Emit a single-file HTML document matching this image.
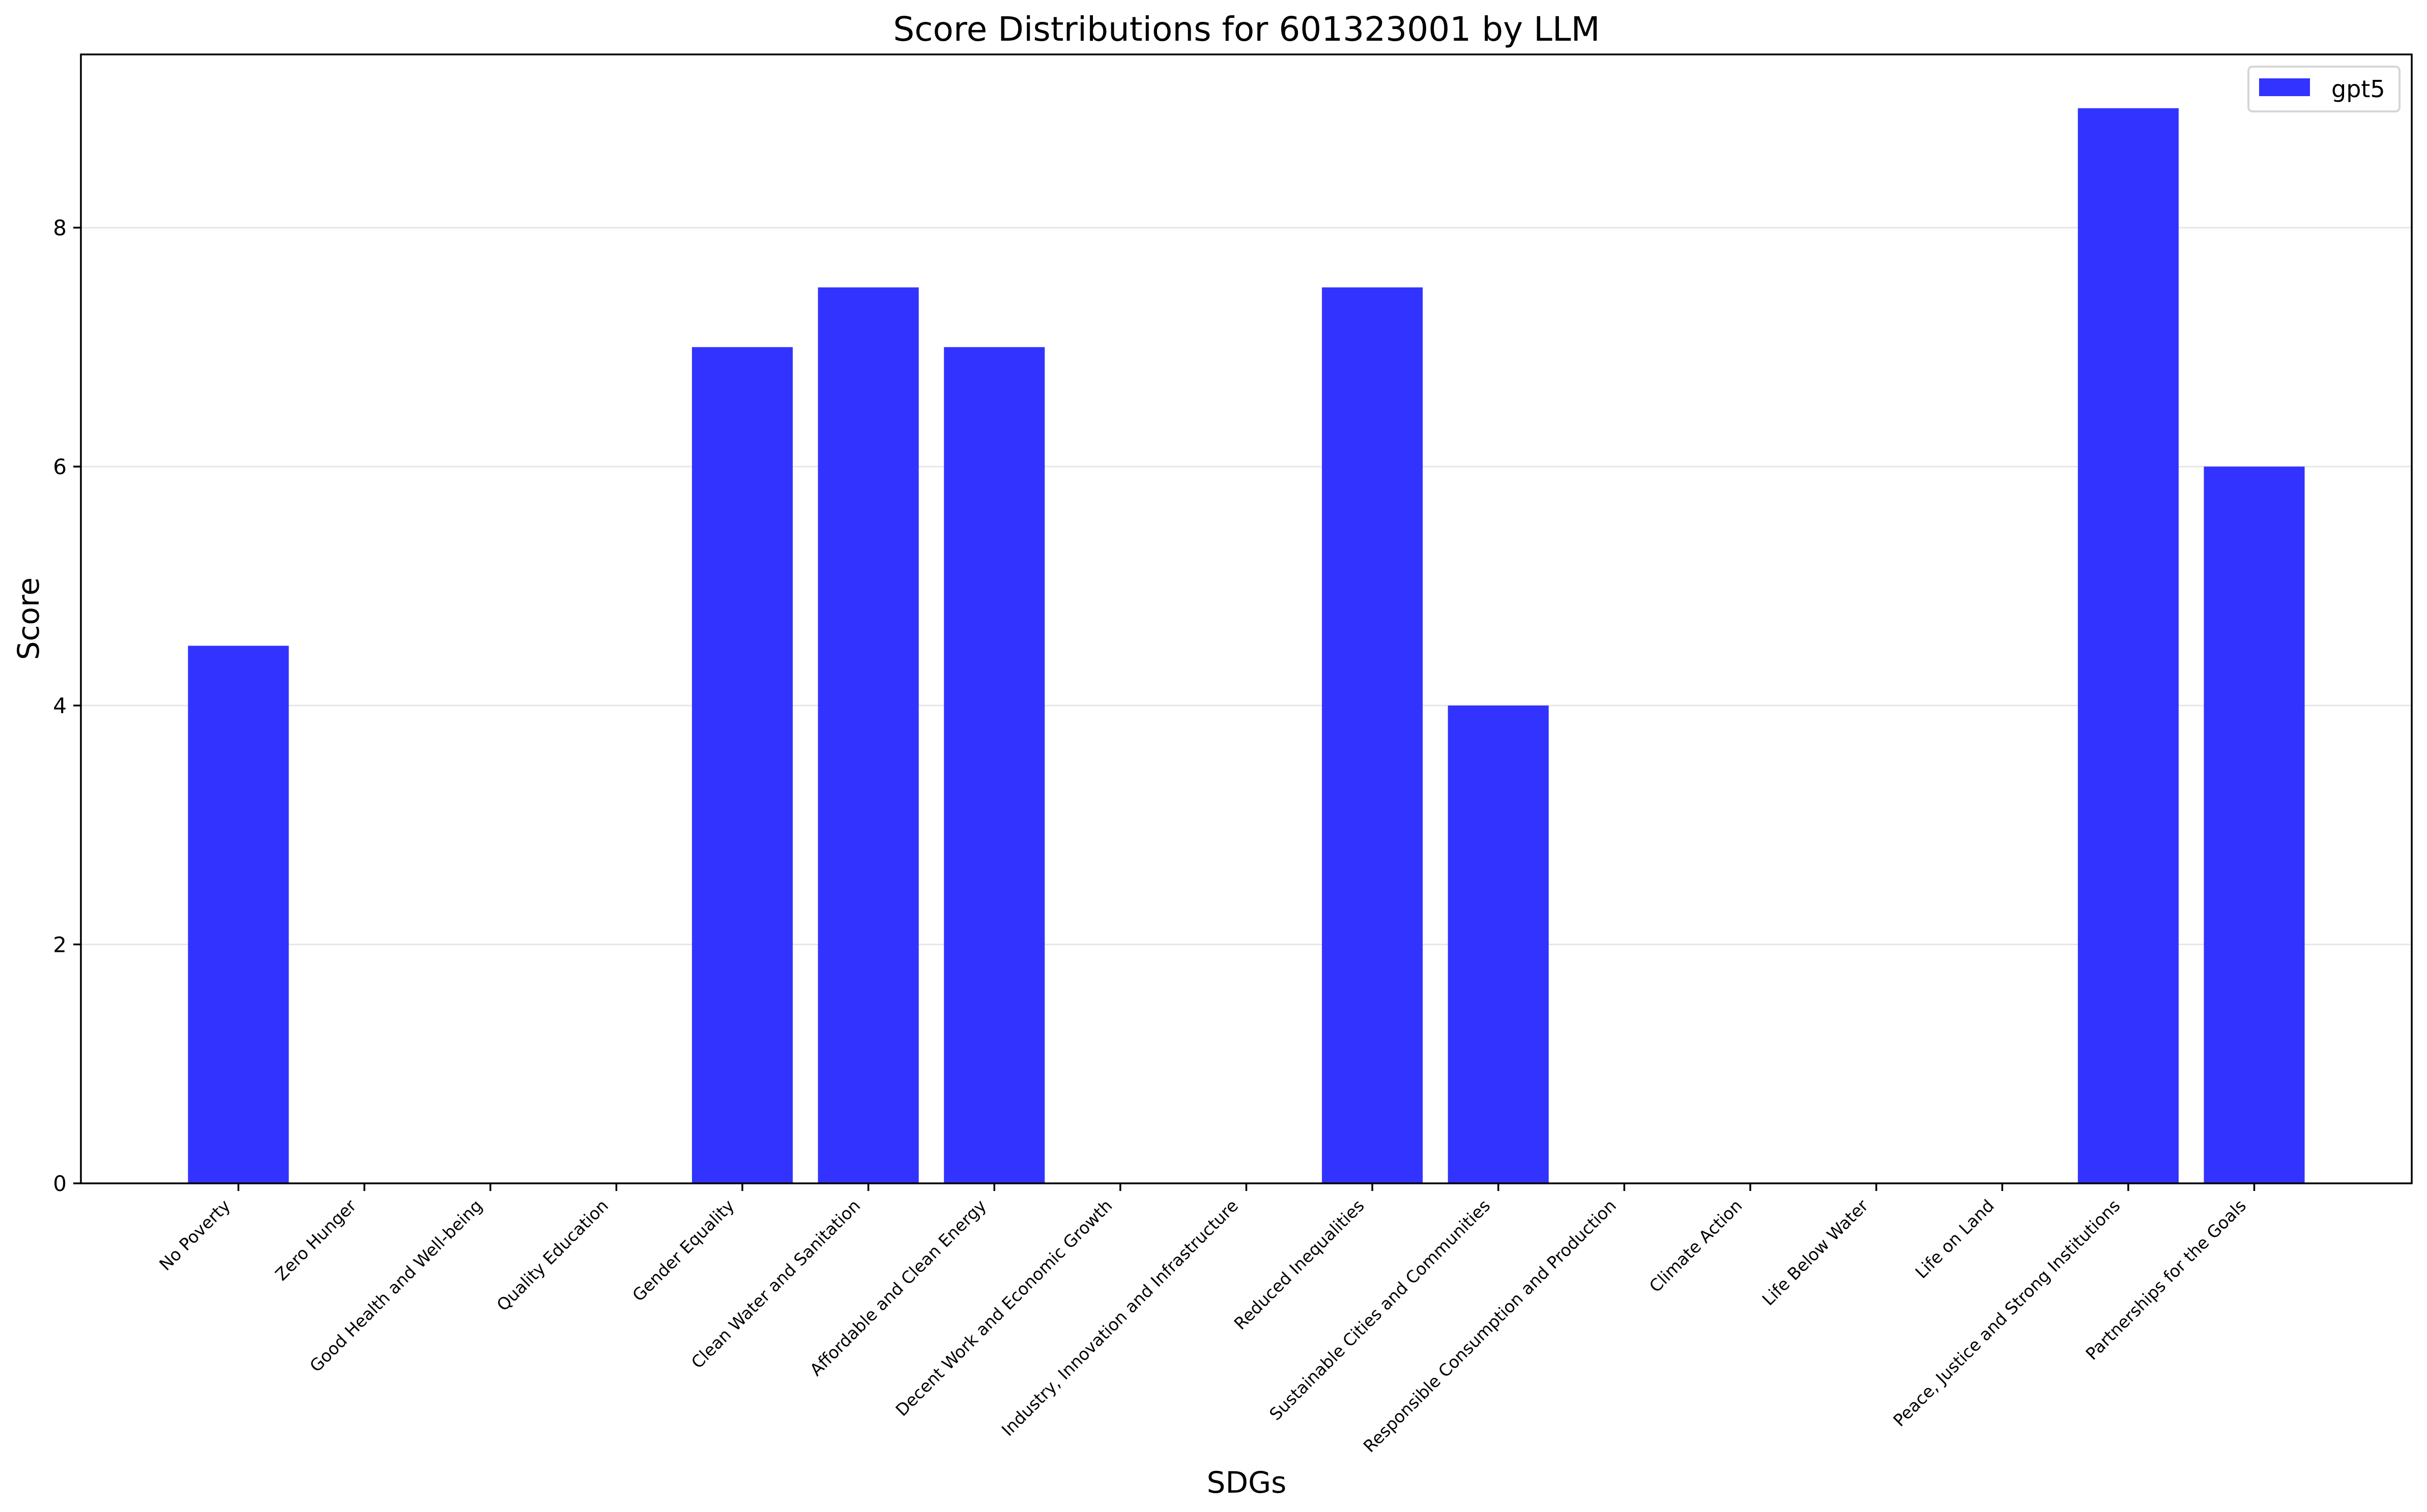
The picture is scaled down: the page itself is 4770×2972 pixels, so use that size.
<!DOCTYPE html>
<html><head><meta charset="utf-8"><style>
html,body{margin:0;padding:0;background:#fff;}
svg{display:block;font-family:"DejaVu Sans","Liberation Sans",sans-serif;}
</style></head><body>
<svg id="chart" width="4770" height="2972" viewBox="0 0 4770 2972" xmlns="http://www.w3.org/2000/svg">
<rect width="4770" height="2972" fill="#fff"/>
<g id="grid"></g>
<g id="bars"></g>
<g id="axes"></g>
<text x="2450" y="80" font-size="66" text-anchor="middle">Score Distributions for 601323001 by LLM</text>
<text x="0" y="0" font-size="58" text-anchor="middle" transform="translate(76,1216) rotate(-90)">Score</text>
<text x="2450" y="2934" font-size="58" text-anchor="middle">SDGs</text>
<g>
<rect x="4419" y="131" width="297" height="88" rx="8" fill="#fff" stroke="#d6d6d6" stroke-width="4"/>
<rect x="4440" y="154" width="100" height="35" fill="#3333ff"/>
<text x="4582" y="191" font-size="46">gpt5</text>
</g>
</svg>
<script>
const categories = ["No Poverty","Zero Hunger","Good Health and Well-being","Quality Education","Gender Equality","Clean Water and Sanitation","Affordable and Clean Energy","Decent Work and Economic Growth","Industry, Innovation and Infrastructure","Reduced Inequalities","Sustainable Cities and Communities","Responsible Consumption and Production","Climate Action","Life Below Water","Life on Land","Peace, Justice and Strong Institutions","Partnerships for the Goals"];
const scores = [4.5,0,0,0,7,7.5,7,0,0,7.5,4,0,0,0,0,9,6];
const yTicks = [0,2,4,6,8];

const NS = "http://www.w3.org/2000/svg";
const L = 159, R = 4740, T = 107, B = 2326;
const xMin = -1.25, xMax = categories.length - 1 + 1.25;
const yMax = 9.45;
function xs(v){ return L + (v - xMin) / (xMax - xMin) * (R - L); }
function ys(v){ return B - v / yMax * (B - T); }
function mk(tag, attrs, parent){ const e = document.createElementNS(NS, tag); for (const k in attrs) e.setAttribute(k, attrs[k]); parent.appendChild(e); return e; }

const grid = document.getElementById('grid');
const bars = document.getElementById('bars');
const axes = document.getElementById('axes');

yTicks.forEach(t => {
  const y = ys(t);
  if (t > 0) {
    const g = mk('line', {x1:L, x2:R, y1:y, y2:y, stroke:'#e6e6e6', 'stroke-width':3}, grid);
    
    
  }
  const tk = mk('line', {x1:L-15, x2:L, y1:y, y2:y, stroke:'#000', 'stroke-width':3.5}, axes);
  
  
  const lb = mk('text', {x:L-28, y:y+15, 'font-size':42, 'text-anchor':'end'}, axes);
  lb.textContent = t;
  
  
});

const bw = 0.8;
categories.forEach((c, i) => {
  const x0 = xs(i - bw/2), x1 = xs(i + bw/2);
  const v = scores[i];
  if (v > 0) {
    const r = mk('rect', {x:x0, y:ys(v), width:x1-x0, height:ys(0)-ys(v), fill:'#3333ff'}, bars);
    
    
  }
  const cx = xs(i);
  const tk = mk('line', {x1:cx, x2:cx, y1:B, y2:B+15, stroke:'#000', 'stroke-width':3.5}, axes);
  
  
  const px = cx - 14, py = B + 46;
  const lb = mk('text', {x:px, y:py, 'font-size':33, 'text-anchor':'end', transform:'rotate(-45 ' + px + ' ' + py + ')'}, axes);
  lb.textContent = c;
  
  
});

const frame = mk('rect', {x:L, y:T, width:R-L, height:B-T, fill:'none', stroke:'#000', 'stroke-width':3.5}, axes);


</script>
</body></html>
